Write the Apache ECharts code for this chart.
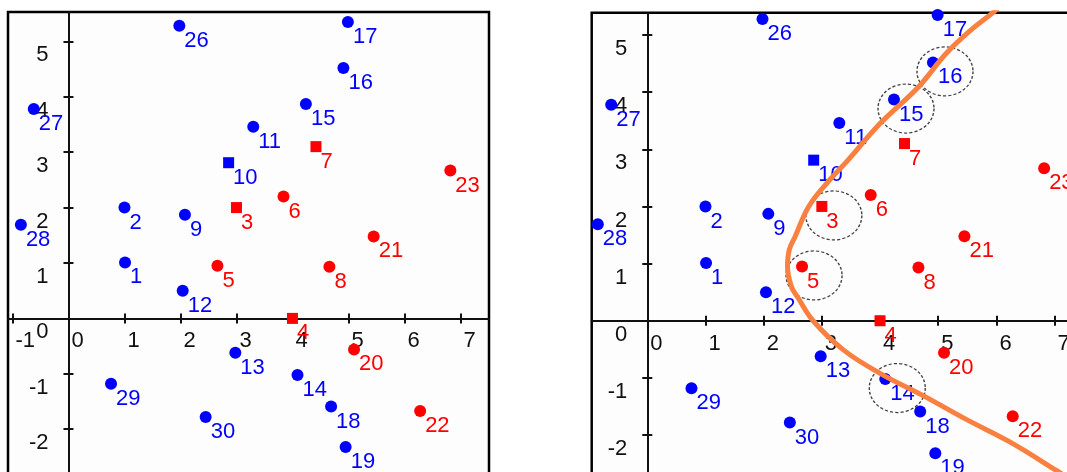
<!DOCTYPE html>
<html><head><meta charset="utf-8">
<script src="https://cdn.jsdelivr.net/npm/echarts@6/dist/echarts.min.js"></script>
<style>html,body{margin:0;padding:0;background:#fff}#c{width:1067px;height:472px}</style>
</head><body><div id="c"></div>
<script>
// ---- data ----
const pointIds   = [1, 2, 3, 4, 5, 6, 7, 8, 9, 10, 11, 12, 13, 14, 15, 16, 17, 18, 19, 20, 21, 22, 23, 26, 27, 28, 29, 30];
const pointX     = [1.01, 1.00, 3.00, 4.00, 2.66, 3.84, 4.42, 4.66, 2.08, 2.86, 3.30, 2.04, 2.98, 4.09, 4.24, 4.91, 4.99, 4.69, 4.95, 5.10, 5.45, 6.28, 6.82, 1.98, -0.62, -0.85, 0.76, 2.45];
const pointY     = [1.01, 2.00, 2.00, 0.00, 0.95, 2.20, 3.10, 0.93, 1.87, 2.81, 3.46, 0.50, -0.62, -1.02, 3.87, 4.52, 5.35, -1.59, -2.32, -0.56, 1.48, -1.67, 2.67, 5.28, 3.78, 1.69, -1.18, -1.78];
const pointClass = [-1, -1, 1, 1, 1, 1, 1, 1, -1, -1, -1, -1, -1, -1, -1, -1, -1, -1, -1, 1, 1, 1, 1, -1, -1, -1, -1, -1];
const squareIds = [3, 4, 7, 10];
const supportVectorIds = [3, 5, 14, 15, 16];
const boundaryX = [7.30, 7.03, 6.23, 5.49, 4.74, 4.00, 3.37, 2.85, 2.58, 2.48, 2.41, 2.44, 2.54, 2.77, 3.08, 3.45, 4.00, 4.66, 5.14, 5.60, 5.95, 6.10];
const boundaryY = [-2.80, -2.62, -2.12, -1.73, -1.31, -0.92, -0.51, 0.00, 0.42, 0.59, 0.94, 1.24, 1.47, 1.99, 2.40, 2.81, 3.45, 4.09, 4.68, 5.12, 5.40, 5.55];
const xTicks = [-1, 0, 1, 2, 3, 4, 5, 6, 7];
const yTicks = [-2, -1, 0, 1, 2, 3, 4, 5];

// ---- styles ----
const FONT = '"Liberation Sans", Arial, sans-serif';
const FS = 22;
const BLUE = '#0000ff', RED = '#ff0000', AXIS = '#111';
const panels = [
  {grid: {left: 8, top: 12, width: 481, height: 472.6}, xMin: -1.08, xMax: 7.51, yMin: -3, yMax: 5.53},
  {grid: {left: 591.7, top: 12.7, width: 492, height: 479.5}, xMin: -0.955, xMax: 7.5, yMin: -3, yMax: 5.39}
];

const grids = [], xAxes = [], yAxes = [], series = [];
panels.forEach((p, gi) => {
  grids.push(Object.assign({show: true, borderColor: '#000', borderWidth: 2.5, backgroundColor: '#fdfdfd',
                            containLabel: false, outerBoundsMode: 'none'}, p.grid));
  // distance (px) from the grid edge to the zero line, derived from the axis scale
  const zeroFromBottom = (0 - p.yMin) / (p.yMax - p.yMin) * p.grid.height;
  const zeroFromLeft = (0 - p.xMin) / (p.xMax - p.xMin) * p.grid.width;
  const xi = xAxes.length, yi = yAxes.length;
  const line = {lineStyle: {color: AXIS, width: 2}};
  const tick = {show: true, length: 5, lineStyle: {color: AXIS, width: 2}};
  xAxes.push({
    gridIndex: gi, type: 'value', min: p.xMin, max: p.xMax, position: 'bottom',
    axisLine: Object.assign({show: true, onZero: true, onZeroAxisIndex: yi}, line),
    axisTick: Object.assign({customValues: xTicks}, tick),
    axisLabel: {show: true, customValues: xTicks, formatter: v => String(v), color: AXIS, fontSize: FS, fontFamily: FONT,
                margin: 12 - zeroFromBottom, align: 'left', padding: [0, 0, 0, 3]},
    splitLine: {show: false}
  });
  xAxes.push({
    gridIndex: gi, type: 'value', min: p.xMin, max: p.xMax, position: 'top',
    axisLine: {show: false, onZero: true, onZeroAxisIndex: yi},
    axisTick: Object.assign({customValues: xTicks}, tick),
    axisLabel: {show: false}, splitLine: {show: false}
  });
  yAxes.push({
    gridIndex: gi, type: 'value', min: p.yMin, max: p.yMax, position: 'left',
    axisLine: Object.assign({show: true, onZero: true, onZeroAxisIndex: xi}, line),
    axisTick: Object.assign({customValues: yTicks}, tick),
    axisLabel: {show: true, customValues: yTicks, formatter: v => String(v), color: AXIS, fontSize: FS, fontFamily: FONT,
                margin: 20 - zeroFromLeft, verticalAlign: 'top', padding: [3, 0, 0, 0]},
    splitLine: {show: false}
  });
  yAxes.push({
    gridIndex: gi, type: 'value', min: p.yMin, max: p.yMax, position: 'right',
    axisLine: {show: false, onZero: true, onZeroAxisIndex: xi},
    axisTick: Object.assign({customValues: yTicks}, tick),
    axisLabel: {show: false}, splitLine: {show: false}
  });

  [[-1, BLUE], [1, RED]].forEach(([cls, col]) => {
    const data = [];
    pointIds.forEach((id, i) => {
      if (pointClass[i] !== cls) return;
      const sq = squareIds.includes(id);
      data.push({value: [pointX[i], pointY[i], id], symbol: sq ? 'rect' : 'circle', symbolSize: sq ? 11 : 12});
    });
    series.push({
      type: 'scatter', xAxisIndex: xi, yAxisIndex: yi, data, clip: true,
      itemStyle: {color: col, opacity: 1},
      label: {show: true, position: 'right', distance: -1, offset: [0, 15], formatter: q => q.value[2],
              color: col, fontSize: FS, fontFamily: FONT},
      emphasis: {disabled: true}, z: 2
    });
  });

  if (gi === 1) {
    const sv = [];
    pointIds.forEach((id, i) => { if (supportVectorIds.includes(id)) sv.push([pointX[i], pointY[i]]); });
    series.push({
      type: 'scatter', xAxisIndex: xi, yAxisIndex: yi, data: sv, symbol: 'circle', symbolSize: [56, 49],
      symbolOffset: [12, 9], silent: true,
      itemStyle: {color: 'rgba(0,0,0,0)', borderColor: '#111', borderWidth: 1.3, borderType: [3, 2]},
      z: 3
    });
    series.push({
      type: 'line', xAxisIndex: xi, yAxisIndex: yi, data: boundaryX.map((x, i) => [x, boundaryY[i]]),
      smooth: 0.4, symbol: 'none', lineStyle: {color: '#fa8040', width: 5}, silent: true, z: 4
    });
  }
});

const chart = echarts.init(document.getElementById('c'), null, {renderer: 'canvas'});
chart.setOption({animation: false, grid: grids, xAxis: xAxes, yAxis: yAxes, series});
</script></body></html>
